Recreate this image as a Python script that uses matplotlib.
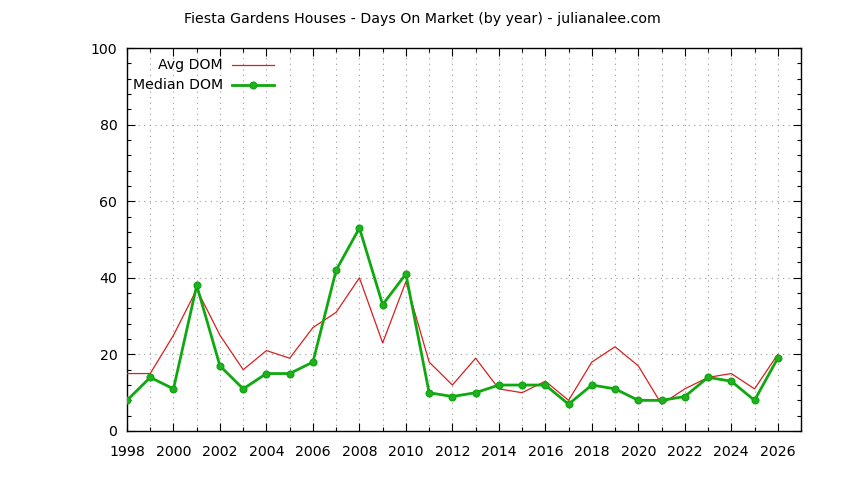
import matplotlib
matplotlib.use("Agg")
import matplotlib.pyplot as plt
from matplotlib.lines import Line2D
from matplotlib.ticker import MultipleLocator

years = list(range(1998, 2027))
avg_dom = [15, 15, 25, 37, 25, 16, 21, 19, 27, 31, 40, 23, 39, 18, 12, 19, 11, 10, 13, 8,
           18, 22, 17, 7, 11, 14, 15, 11, 20]
median_dom = [8, 14, 11, 38, 17, 11, 15, 15, 18, 42, 53, 33, 41, 10, 9, 10, 12, 12, 12, 7,
              12, 11, 8, 8, 9, 14, 13, 8, 19]
x_ticks = list(range(1998, 2027, 2))
y_ticks = [0, 20, 40, 60, 80, 100]
title = "Fiesta Gardens Houses - Days On Market (by year) - julianalee.com"

plt.rcParams['font.family'] = ['DejaVu Sans']
fig = plt.figure(figsize=(8.44, 4.8), dpi=100)
ax = fig.add_axes([127/844, 49/480, 674/844, 383/480])

red = "#d62020"
green = "#10a810"

ax.plot(years, avg_dom, color=red, lw=0.9, zorder=3)
ax.plot(years, median_dom, color=green, lw=2.0, marker='o', ms=4.8,
        markerfacecolor="#20b020", markeredgecolor=green, zorder=4)

ax.set_xlim(1998, 2027)
ax.set_ylim(0, 100)
ax.set_xticks(x_ticks)
ax.set_yticks(y_ticks)
ax.xaxis.set_minor_locator(MultipleLocator(1))
ax.yaxis.set_minor_locator(MultipleLocator(4))
ax.tick_params(which='both', direction='in', top=True, right=True, labelsize=10.2, width=0.8)
ax.tick_params(which='major', length=6)
ax.tick_params(which='minor', length=3)
ax.tick_params(axis='x', which='major', pad=10)
ax.tick_params(axis='y', which='major', pad=7)
for s in ax.spines.values():
    s.set_linewidth(1.0)

ax.grid(True, which='both', axis='x', color='#999999', ls=(0, (1, 4)), lw=0.8)
ax.grid(True, which='major', axis='y', color='#999999', ls=(0, (1, 4)), lw=0.8)

# legend (gnuplot style: right-aligned text, sample after)
ax.text(0.1425, 0.9556, "Avg DOM", transform=ax.transAxes, ha='right', va='center', fontsize=10.2)
ax.text(0.1425, 0.9034, "Median DOM", transform=ax.transAxes, ha='right', va='center', fontsize=10.2)
ax.add_line(Line2D([0.1558, 0.218], [0.9556, 0.9556], transform=ax.transAxes, color=red, lw=0.9))
ax.add_line(Line2D([0.1558, 0.218], [0.9034, 0.9034], transform=ax.transAxes, color=green, lw=2.0))
ax.add_line(Line2D([0.187], [0.9034], transform=ax.transAxes, color=green, marker='o', ms=4.8,
                   markerfacecolor="#20b020", markeredgecolor=green))

fig.text(0.5, 1 - 19/480, title, ha='center', va='center', fontsize=10.2)

fig.savefig("out.png", dpi=100)
